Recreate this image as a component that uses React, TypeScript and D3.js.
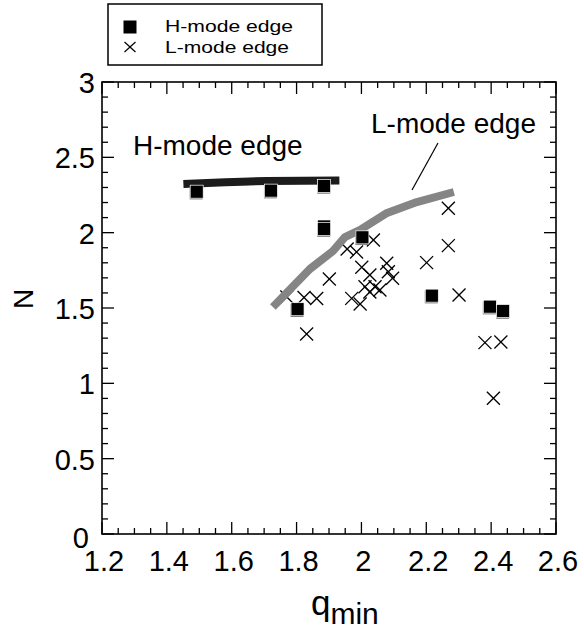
import React from "react";
import * as d3 from "d3";

// H-mode edge (filled squares)
const hModeQ = [1.492, 1.721, 1.885, 1.885, 1.885, 2.003, 1.803, 2.217, 2.396, 2.437];
const hModeN = [2.272, 2.279, 2.31, 2.041, 2.024, 1.969, 1.492, 1.582, 1.509, 1.48];

// L-mode edge (crosses)
const lModeQ = [1.77, 1.823, 1.862, 1.831, 1.901, 1.956, 1.985, 2.037, 2.001, 2.078, 2.026, 2.083, 2.096, 2.011, 2.042, 2.057, 2.026, 1.97, 1.996, 2.201, 2.268, 2.268, 2.301, 2.381, 2.43, 2.407];
const lModeN = [1.573, 1.57, 1.563, 1.327, 1.692, 1.892, 1.872, 1.951, 1.77, 1.797, 1.719, 1.741, 1.697, 1.641, 1.641, 1.619, 1.606, 1.564, 1.527, 1.801, 2.162, 1.914, 1.586, 1.27, 1.274, 0.901];

// Trend lines
const hLineQ = [1.451, 1.58, 1.708, 1.932];
const hLineN = [2.323, 2.335, 2.343, 2.347];
const lLineQ = [1.727, 1.841, 1.912, 1.949, 1.996, 2.079, 2.171, 2.285];
const lLineN = [1.507, 1.759, 1.878, 1.971, 2.018, 2.131, 2.203, 2.27];

const xTicks = [1.2, 1.4, 1.6, 1.8, 2, 2.2, 2.4, 2.6];
const yTicks = [0, 0.5, 1, 1.5, 2, 2.5, 3];

const W = 584;
const H = 633;
const L = 102;
const R = 556;
const T = 82;
const B = 534;
const FONT = "'Liberation Sans', Arial, Helvetica, sans-serif";

export default function App() {
  const x = d3.scaleLinear().domain([1.2, 2.6]).range([L, R]);
  const y = d3.scaleLinear().domain([0, 3]).range([B, T]);
  const hLine = d3
    .line<[number, number]>()
    .x((d) => x(d[0]))
    .y((d) => y(d[1]))
    .curve(d3.curveMonotoneX);
  const lLine = d3
    .line<[number, number]>()
    .x((d) => x(d[0]))
    .y((d) => y(d[1]));

  const xMinor = d3.range(1.2, 2.6001, 0.05).map((v) => +v.toFixed(2));
  const yMinor = d3.range(0, 3.0001, 0.1).map((v) => +v.toFixed(2));
  const isMajorX = (v: number) => Math.abs(Math.round(v * 5) - v * 5) < 1e-6;
  const isMajorY = (v: number) => Math.abs(Math.round(v * 2) - v * 2) < 1e-6;

  const sq = 13;
  const cr = 6.5;

  return (
    <svg
      width={W}
      height={H}
      style={{ position: "absolute", left: 0, top: 0, background: "#fff" }}
      fontFamily={FONT}
    >
      <rect x={0} y={0} width={W} height={H} fill="#fff" />

      {/* ticks */}
      <g stroke="#000" strokeWidth={1.3}>
        {xMinor.map((v, i) => {
          const len = isMajorX(v) ? 12 : 6;
          const px = x(v);
          return (
            <g key={"xt" + i}>
              <line x1={px} x2={px} y1={B} y2={B - len} />
              <line x1={px} x2={px} y1={T} y2={T + len} />
            </g>
          );
        })}
        {yMinor.map((v, i) => {
          const len = isMajorY(v) ? 12 : 6;
          const py = y(v);
          return (
            <g key={"yt" + i}>
              <line x1={L} x2={L + len} y1={py} y2={py} />
              <line x1={R} x2={R - len} y1={py} y2={py} />
            </g>
          );
        })}
      </g>
      <rect x={L} y={T} width={R - L} height={B - T} fill="none" stroke="#000" strokeWidth={1.6} />

      {/* tick labels */}
      <g fontSize={29} fill="#000">
        {xTicks.map((v) => (
          <text key={"xl" + v} x={x(v) + 2} y={571} textAnchor="middle">
            {String(v)}
          </text>
        ))}
        {yTicks.map((v) => (
          <text
            key={"yl" + v}
            x={v === 0 ? 89 : 95}
            y={v === 0 ? y(v) + 14 : y(v) + 11}
            textAnchor="end"
          >
            {String(v)}
          </text>
        ))}
      </g>

      {/* axis titles */}
      <text x={311} y={615} fontSize={35} fill="#000">
        q
        <tspan fontSize={30} dy={9}>
          min
        </tspan>
      </text>
      <text transform="translate(33,299) rotate(-90)" textAnchor="middle" fontSize={28} fill="#000">
        N
      </text>

      {/* H-mode trend line */}
      <path
        d={hLine(hLineQ.map((q, i) => [q, hLineN[i]] as [number, number])) || ""}
        fill="none"
        stroke="#1c1c1c"
        strokeWidth={8}
      />

      {/* crosses */}
      <g stroke="#000" strokeWidth={1.3}>
        {lModeQ.map((q, i) => {
          const cx = x(q);
          const cy = y(lModeN[i]);
          return (
            <g key={"c" + i}>
              <line x1={cx - cr} x2={cx + cr} y1={cy - cr} y2={cy + cr} />
              <line x1={cx - cr} x2={cx + cr} y1={cy + cr} y2={cy - cr} />
            </g>
          );
        })}
      </g>

      {/* L-mode trend line */}
      <path
        d={lLine(lLineQ.map((q, i) => [q, lLineN[i]] as [number, number])) || ""}
        fill="none"
        stroke="#858585"
        strokeWidth={8}
        strokeLinejoin="round"
      />

      {/* squares */}
      {hModeQ.map((q, i) => {
        const cx = x(q);
        const cy = y(hModeN[i]);
        return (
          <g key={"s" + i}>
            <rect x={cx - sq / 2 - 0.5} y={cy - sq / 2 + 1.2} width={sq} height={sq} fill="#6a6a6a" />
            <rect
              x={cx - sq / 2}
              y={cy - sq / 2}
              width={sq}
              height={sq}
              fill="#000"
              stroke="#fff"
              strokeWidth={0.7}
            />
          </g>
        );
      })}

      {/* in-plot annotations */}
      <text x={133} y={155} fontSize={28} fill="#000">
        H-mode edge
      </text>
      <text x={371} y={133} fontSize={28} fill="#000">
        L-mode edge
      </text>
      <line x1={438} y1={143} x2={412} y2={190} stroke="#000" strokeWidth={1.2} />

      {/* legend */}
      <rect x={108} y={4} width={214} height={61} fill="#fff" stroke="#000" strokeWidth={1.5} />
      <rect x={130 - 6.5} y={27 - 6.5} width={13} height={13} fill="#000" />
      <g stroke="#000" strokeWidth={1.2}>
        <line x1={124.5} x2={135.5} y1={42} y2={52} />
        <line x1={124.5} x2={135.5} y1={52} y2={42} />
      </g>
      <text x={165} y={32} fontSize={17} textLength={128} lengthAdjust="spacingAndGlyphs" fill="#000">
        H-mode edge
      </text>
      <text x={165} y={53} fontSize={17} textLength={124} lengthAdjust="spacingAndGlyphs" fill="#000">
        L-mode edge
      </text>
    </svg>
  );
}
